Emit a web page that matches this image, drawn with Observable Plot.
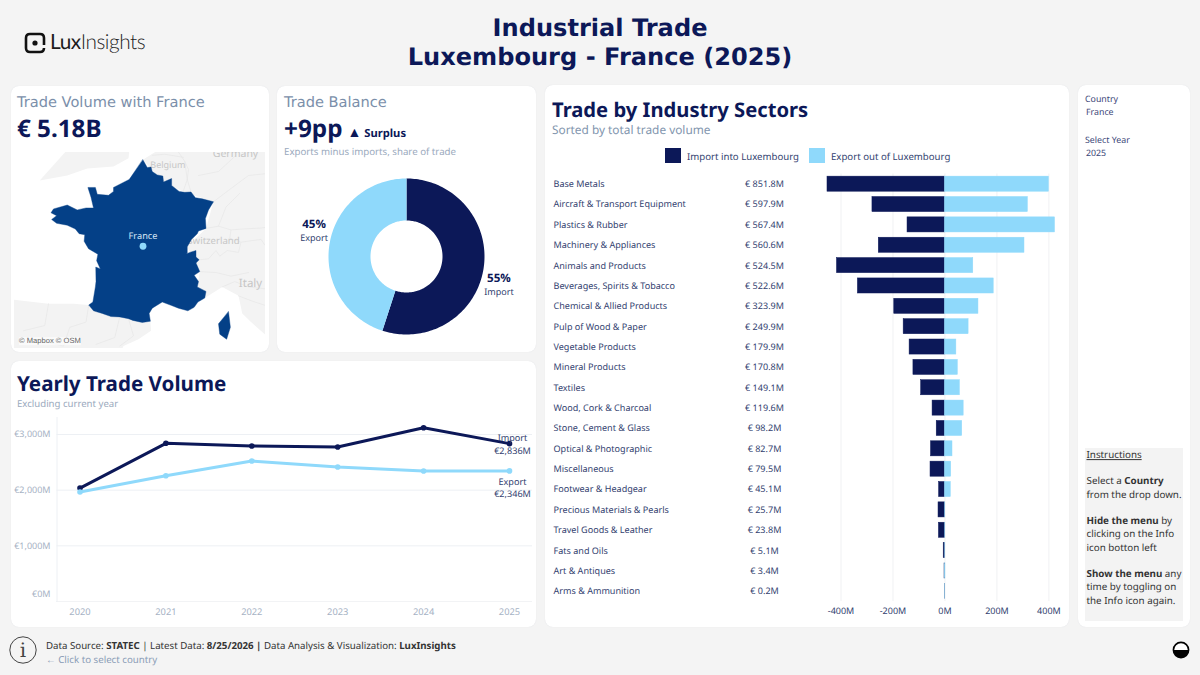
<!DOCTYPE html>
<html><head><meta charset="utf-8">
<script src="https://cdn.jsdelivr.net/npm/d3@7"></script>
<script src="https://cdn.jsdelivr.net/npm/@observablehq/plot@0.6"></script>
<style>
html,body{margin:0;padding:0;background:#f4f4f4;width:1200px;height:675px;overflow:hidden;font-family:"Noto Sans",sans-serif;text-rendering:geometricPrecision;}
.card{position:absolute;background:#fff;border-radius:8px;box-shadow:0 0 1px #d9dbe0;}
.t{position:absolute;white-space:nowrap;transform:translateY(-50%);line-height:1;}
.p{position:absolute;overflow:hidden;}
.p svg{display:block;background:transparent;text-rendering:geometricPrecision;}
</style></head><body>
<script>
// ---------- data ----------
const navy="#0c1858", sky="#8fd9fb", mapBlue="#044087";
const sectors=["Base Metals","Aircraft & Transport Equipment","Plastics & Rubber","Machinery & Appliances","Animals and Products","Beverages, Spirits & Tobacco","Chemical & Allied Products","Pulp of Wood & Paper","Vegetable Products","Mineral Products","Textiles","Wood, Cork & Charcoal","Stone, Cement & Glass","Optical & Photographic","Miscellaneous","Footwear & Headgear","Precious Materials & Pearls","Travel Goods & Leather","Fats and Oils","Art & Antiques","Arms & Ammunition"];
const totals=["€ 851.8M","€ 597.9M","€ 567.4M","€ 560.6M","€ 524.5M","€ 522.6M","€ 323.9M","€ 249.9M","€ 179.9M","€ 170.8M","€ 149.1M","€ 119.6M","€ 98.2M","€ 82.7M","€ 79.5M","€ 45.1M","€ 25.7M","€ 23.8M","€ 5.1M","€ 3.4M","€ 0.2M"];
const sectorImports=[452,279,144,254.6,415.5,335,195,158.9,136,121.3,91.6,47.6,31.7,53.7,55.5,22.6,24.7,23.2,4.8,1.6,0.03];
const sectorExports=[400,319,423.4,306,109,187.6,128.9,91,43.9,49.5,57.5,72,66.5,29,24,22.5,1,0.6,0.3,1.8,0.17];
const years=[2020,2021,2022,2023,2024,2025];
const yearlyImport=[2038,2842,2793,2775,3122,2836];
const yearlyExport=[1966,2260,2523,2415,2344,2346];
const shareImport=55, shareExport=45;
const franceMain=[[2.55,51.08],[2.9,50.7],[3.2,50.72],[3.3,50.5],[3.7,50.33],[4.15,50.27],[4.2,49.97],[4.85,50.15],[4.85,49.8],[5.45,49.5],[5.9,49.45],[6.4,49.47],[6.75,49.18],[7.3,49.12],[8.2,48.97],[7.8,48.55],[7.55,48.1],[7.6,47.58],[7.0,47.45],[6.9,47.3],[6.45,47.0],[6.1,46.6],[6.1,46.25],[5.97,46.2],[6.3,46.3],[6.8,46.4],[6.8,46.05],[7.05,45.9],[6.8,45.72],[7.1,45.25],[6.65,45.05],[7.0,44.7],[6.9,44.4],[7.6,44.15],[7.5,43.78],[6.95,43.55],[6.65,43.25],[6.15,43.05],[5.4,43.2],[4.85,43.35],[4.1,43.55],[3.3,43.2],[3.05,42.9],[3.15,42.45],[2.5,42.38],[1.75,42.5],[1.4,42.6],[0.7,42.7],[0,42.72],[-0.7,42.9],[-1.4,43.05],[-1.78,43.38],[-1.45,43.55],[-1.25,44.4],[-1.2,44.7],[-1.22,45.5],[-0.85,45.4],[-1.15,45.85],[-1.05,46.2],[-1.8,46.5],[-2.15,46.9],[-2.1,47.25],[-2.55,47.3],[-2.85,47.55],[-3.5,47.75],[-4.35,47.85],[-4.75,48.05],[-4.35,48.25],[-4.8,48.4],[-4.6,48.6],[-3.5,48.8],[-2.7,48.55],[-2.0,48.65],[-1.4,48.65],[-1.6,49.2],[-1.85,49.7],[-1.25,49.7],[-1.1,49.35],[-0.2,49.3],[0.2,49.5],[0.2,49.7],[1.45,50.1],[1.6,50.85]];
const corsica=[[9.4,43.0],[9.55,42.1],[9.25,41.4],[8.7,41.7],[8.6,42.3],[9.05,42.7],[9.3,42.95]];
const landEast=[[2.55,51.08],[3.5,51.45],[4.8,52],[14,52],[14,40.5],[13,41.2],[12.3,41.7],[11.2,42.4],[10.5,42.9],[10.2,43.9],[8.9,44.4],[7.5,43.78],[7.6,44.15],[6.9,44.4],[7.1,45.25],[6.1,46.6],[7.6,47.58],[8.2,48.97],[5.9,49.45],[4.2,49.97],[2.9,50.7]];
const landSpain=[[3.15,42.45],[3.2,41.9],[2.2,41.4],[1,41],[0.7,40.5],[-8,40.5],[-8,43.7],[-5,43.45],[-3,43.45],[-1.78,43.38],[-0.7,42.9],[1.4,42.6]];
const landUK=[[-5.7,50.05],[-3.5,50.3],[-1.9,50.65],[0.2,50.75],[1.4,51.15],[1.5,51.7],[-3.3,51.7],[-4.4,50.9]];
const borderLines=[
 [[4.8,52],[5.9,51],[6.1,50.1],[6.4,49.47]],[[3.3,51.3],[4.3,51.35],[5.8,51.2]],[[6.1,50.1],[5.8,49.55]],[[5.9,51],[6.2,50.6],[6.1,50.1]],
 [[7.6,47.58],[8.6,47.7],[9.6,47.5],[9.5,47.05],[10.4,46.85],[10.2,46.3],[9.3,46.4],[8.7,46.1],[8.4,46.4],[7.8,45.95],[7.05,45.9]],
 [[9.6,47.5],[10.5,47.55],[12,47.6],[13,47.7]],[[10.4,46.85],[12,47],[12.3,46.7],[14,46.5]],[[8.2,48.97],[9.5,49.6],[11,50.3],[12.5,50.4]],[[7,50.3],[8.6,50.5],[10,51.3]],[[8.6,47.7],[9.2,48.7],[10.3,49.4]],
 [[7.1,45.25],[8.4,45.2],[9.6,45],[11,45.2]],[[8.9,44.4],[9.9,44.7],[11,44.4],[12.3,44.3]],[[10.2,43.9],[11.3,43.6],[12.6,43.3]],
 [[-1.78,43.38],[-2,42.4],[-3.3,42.1],[-3.8,41],[-6,41.4]],[[0.7,42.7],[0.3,41.5],[-1.2,41.1]],[[1.4,42.6],[1.8,41.6],[0.7,41]],[[-5,43.45],[-5.3,42.2],[-7,41.9]]];
const mapPlaces=[["Germany",9.96,51.4,10.5],["Belgium",4.55,50.8,9],["Switzerland",8.2,46.9,9.6],["Italy",11.16,44.6,11.5]];
const yTicksUpper=[1000,2000,3000];
const xBarTicks=[-400,-200,0,200,400];

// ---------- helpers ----------
function card(x,y,w,h){const d=document.createElement("div");d.className="card";d.style.cssText=`left:${x}px;top:${y}px;width:${w}px;height:${h}px`;document.body.append(d);}
function label(x,y,html,css){const d=document.createElement("div");d.className="t";d.style.cssText=`left:${x}px;top:${y}px;${css}`;d.innerHTML=html;document.body.append(d);return d;}
function place(x,y,w,h,node){const d=document.createElement("div");d.className="p";d.style.cssText=`left:${x}px;top:${y}px;width:${w}px;height:${h}px`;d.append(node);document.body.append(d);}
const dejavu='font-family:"DejaVu Sans";';

// ---------- header ----------
label(600,28,"Industrial Trade",dejavu+`font-weight:700;font-size:24.1px;color:${navy};transform:translate(-50%,-50%)`);
label(600,57,"Luxembourg - France (2025)",dejavu+`font-weight:700;font-size:24.1px;color:${navy};transform:translate(-50%,-50%)`);
const logo=document.createElementNS("http://www.w3.org/2000/svg","svg");
logo.setAttribute("width",22);logo.setAttribute("height",22);logo.setAttribute("style","position:absolute;left:24px;top:32px");
logo.innerHTML='<path d="M6 2 H16 Q20 2 20 6 V13 M20 16 Q20 20 16 20 H6 Q2 20 2 16 V6 Q2 2 6 2" fill="none" stroke="#111" stroke-width="2.6"/><circle cx="11" cy="11" r="2.6" fill="#111"/>';
document.body.append(logo);
label(50,42,'<span style="font-weight:400">Lux</span><span style="font-weight:300">Insights</span>','font-family:Lato;font-size:20.8px;letter-spacing:-.45px;color:#1c1c1c');

// ---------- cards ----------
card(11,86,258,266);card(277,86,259,266);card(11,361,525,266);card(545,85,524,542);card(1078,85,112,542);

// ---------- card 1: map ----------
label(17,102.5,"Trade Volume with France",dejavu+"font-size:14.6px;color:#7b8faa");
label(17,129,"€ 5.18B",`font-weight:700;font-size:24.2px;color:${navy}`);
const merc=lat=>Math.log(Math.tan(Math.PI/4+lat*Math.PI/360));
const mapProjection=d3.geoTransform({point(lon,lat){this.stream.point(34+(lon+5)*12.5,9+(1.038-merc(lat))*732);}});
const poly=r=>({type:"Polygon",coordinates:[r]});
place(14,152,251,196,Plot.plot({width:251,height:196,margin:0,projection:mapProjection,style:{background:"transparent",fontFamily:"Noto Sans"},
 marks:[
  Plot.geo([landEast,landSpain,landUK].map(poly),{fill:"#f3f3f3"}),
  Plot.geo({type:"MultiLineString",coordinates:borderLines},{stroke:"#e6e6e6",strokeWidth:.7}),
  Plot.text(mapPlaces,{x:d=>d[1],y:d=>d[2],text:d=>d[0],fontSize:d=>d[3],fill:"#c6c6c6"}),
  Plot.geo({type:"MultiPolygon",coordinates:[[franceMain],[corsica]]},{fill:mapBlue,stroke:mapBlue,strokeWidth:.4}),
  Plot.text([{n:"France",lon:2.56,lat:47.2}],{x:"lon",y:"lat",text:"n",fill:"#d4e6f5",fontSize:9.2}),
  Plot.dot([{lon:2.56,lat:46.63}],{x:"lon",y:"lat",r:3.4,fill:"#8fd9fb"})
 ]}));
label(19,341,"© Mapbox © OSM",'font-family:"Liberation Sans";font-size:7.6px;color:#666;background:rgba(255,255,255,.6)');

// ---------- card 2: donut ----------
label(284,102.5,"Trade Balance",dejavu+"font-size:14.6px;color:#7b8faa");
label(284,129,"+9pp",`font-weight:700;font-size:24.3px;color:${navy}`);
label(347.5,133,'<span style="font-size:14px">▲</span> Surplus',`font-weight:700;font-size:11.2px;color:${navy}`);
label(284,152,"Exports minus imports, share of trade","font-size:9.7px;color:#9aa9bd");
const donutRows=[{name:"Import",share:shareImport,color:navy,dy:[7.4,21.4]},{name:"Export",share:shareExport,color:sky,dy:[-17.4,-3.4]}];
{let a=0;for(const r of donutRows){r.a0=a;a+=r.share/100*2*Math.PI;r.a1=a;r.mid=(r.a0+r.a1)/2;}}
const hole=36/78;
function wedge(a0,a1){const n=Math.ceil((a1-a0)*40);const s=d3.range(n+1).map(i=>a0+(a1-a0)*i/n);
 const pt=(r,a)=>[r*Math.sin(a),r*Math.cos(a)];
 return {type:"Polygon",coordinates:[[...s.map(a=>pt(1,a)),...s.slice().reverse().map(a=>pt(hole,a)),pt(1,a0)]]};}
const donutProjection=d3.geoTransform({point(u,v){this.stream.point(129+u*78,96-v*78);}});
place(277,160,259,190,Plot.plot({width:259,height:190,margin:0,projection:donutProjection,style:{background:"transparent",fontFamily:"Noto Sans"},
 marks:[
  Plot.geo(donutRows.map(r=>wedge(r.a0,r.a1)),{fill:(d,i)=>donutRows[i].color}),
  ...donutRows.flatMap(r=>[
   Plot.text([r],{x:d=>1.2*Math.sin(d.mid),y:d=>1.2*Math.cos(d.mid),dy:r.dy[0],text:d=>d.share+"%",fontWeight:700,fontSize:11.6,fill:navy}),
   Plot.text([r],{x:d=>1.2*Math.sin(d.mid),y:d=>1.2*Math.cos(d.mid),dy:r.dy[1],text:"name",fontSize:9,fill:"#333f70"})
  ])
 ]}));

// ---------- card 3: yearly line ----------
label(17,384,"Yearly Trade Volume",`font-weight:700;font-size:20.6px;color:${navy}`);
label(17,404,"Excluding current year","font-size:9.6px;color:#9aa9bd");
const yearly=years.flatMap((y,i)=>[{year:y,flow:"Import",v:yearlyImport[i]},{year:y,flow:"Export",v:yearlyExport[i]}]);
const lastOf=f=>yearly.filter(d=>d.flow===f&&d.year===2025);
const euro=d=>"€"+d3.format(",")(d)+"M";
place(11,410,525,215,Plot.plot({width:525,height:215,marginLeft:45.5,marginRight:4,marginTop:7,marginBottom:24,
 style:{background:"transparent",fontFamily:"Noto Sans",fontSize:"9px"},
 x:{type:"point",domain:years,range:[68.5,498],padding:0,round:false},
 y:{domain:[0,3000],range:[191,24]},
 color:{domain:["Import","Export"],range:[navy,sky]},
 marks:[
  Plot.ruleY(yTicksUpper,{stroke:"#edf0f4"}),
  Plot.ruleY([0],{stroke:"#e4e6ea",strokeDasharray:"1,1"}),
  Plot.frame({anchor:"left",stroke:"#edf0f4"}),
  Plot.axisY(yTicksUpper,{tickSize:0,tickPadding:6.5,tickFormat:euro,label:null,fill:"#a6b2c4",fontSize:9}),
  Plot.axisY([0],{tickSize:0,tickPadding:6.5,tickFormat:euro,label:null,fill:"#a6b2c4",fontSize:9,dy:-7}),
  Plot.axisX(years,{tickSize:0,tickPadding:7,tickFormat:d=>String(d),label:null,fill:"#a6b2c4",fontSize:9.3}),
  Plot.line(yearly,{x:"year",y:"v",stroke:"flow",strokeWidth:3}),
  Plot.dot(yearly,{x:"year",y:"v",fill:"flow",r:2.8}),
  Plot.text(lastOf("Import"),{x:"year",y:"v",text:"flow",dx:3,dy:-6,fill:"#333f70",fontSize:9.1}),
  Plot.text(lastOf("Import"),{x:"year",y:"v",text:d=>euro(d.v),dx:3,dy:7,fill:"#333f70",fontSize:9.1}),
  Plot.text(lastOf("Export"),{x:"year",y:"v",text:"flow",dx:3,dy:11,fill:"#333f70",fontSize:9.1}),
  Plot.text(lastOf("Export"),{x:"year",y:"v",text:d=>euro(d.v),dx:3,dy:23,fill:"#333f70",fontSize:9.1})
 ]}));

// ---------- card 4: sectors ----------
label(552,108.5,"Trade by Industry Sectors",`font-weight:700;font-size:20.2px;color:${navy}`);
label(552,131,"Sorted by total trade volume","font-size:11.85px;color:#8296ae");
const sw=(x,c)=>{const d=document.createElement("div");d.style.cssText=`position:absolute;left:${x}px;top:148px;width:16px;height:15px;background:${c}`;document.body.append(d);};
sw(665,navy);sw(809,sky);
label(687,157,"Import into Luxembourg","font-size:9.65px;color:#333f70");
label(831,157,"Export out of Luxembourg","font-size:9.65px;color:#333f70");
const rows=sectors.map((s,i)=>({s,total:totals[i],imp:-sectorImports[i],exp:sectorExports[i]}));
place(545,170,524,457,Plot.plot({width:524,height:457,marginLeft:8,marginRight:0,marginTop:3.5,marginBottom:26,
 style:{background:"transparent",fontFamily:"Noto Sans",fontSize:"9px"},
 x:{domain:[-400,400],range:[295.5,503.4]},
 y:{type:"band",domain:sectors,range:[3.5,431],paddingInner:.26,paddingOuter:.13,round:false,axis:null},
 marks:[
  Plot.ruleX(xBarTicks,{stroke:"#f0f1f3"}),
  Plot.barX(rows,{x1:"imp",x2:0,y:"s",fill:navy,stroke:navy,strokeWidth:.5}),
  Plot.barX(rows,{x1:0,x2:"exp",y:"s",fill:sky,stroke:sky,strokeWidth:.5}),
  Plot.text(rows,{y:"s",text:"s",frameAnchor:"left",fill:"#333f70",fontSize:9.05}),
  Plot.text(rows,{y:"s",text:"total",frameAnchor:"left",dx:211,textAnchor:"middle",fill:"#333f70",fontSize:9.05}),
  Plot.axisX(xBarTicks,{tickSize:0,tickPadding:6,tickFormat:d=>d+"M",label:null,fill:"#333f70",fontSize:9})
 ]}));

// ---------- filter panel ----------
const panel="font-size:8.8px;color:#3b4678;";
label(1085,99,"Country",panel);label(1086,112,"France",panel);
label(1085,140,"Select Year",panel);label(1086,153,"2025",panel);
const box=document.createElement("div");box.style.cssText="position:absolute;left:1085px;top:448px;width:98px;height:173px;background:#f3f3f3";document.body.append(box);
const ins="font-size:9.8px;color:#333;";
[[455,'<u>Instructions</u>'],[481,'Select a <b>Country</b>'],[494.5,'from the drop down.'],[521,'<b>Hide the menu</b> by'],[534,'clicking on the Info'],[548,'icon botton left'],[574,'<b>Show the menu</b> any'],[587,'time by toggling on'],[601,'the Info icon again.']].forEach(([y,h])=>label(1086.5,y,h,ins));

// ---------- footer ----------
const icons=document.createElementNS("http://www.w3.org/2000/svg","svg");
icons.setAttribute("width",1200);icons.setAttribute("height",675);icons.setAttribute("style","position:absolute;left:0;top:0;pointer-events:none");
icons.innerHTML='<circle cx="23" cy="650" r="13.2" fill="none" stroke="#444" stroke-width="1"/><circle cx="1181" cy="650" r="7.6" fill="#fff" stroke="#000" stroke-width="1.6"/><path d="M1173.4 650 A7.6 7.6 0 0 0 1188.6 650 Z" fill="#000"/>';
document.body.append(icons);
label(23,650,"i",'font-family:"DejaVu Serif";font-size:20px;font-weight:300;color:#444;transform:translate(-50%,-50%)');
label(46,646,'Data Source: <b>STATEC</b> | Latest Data: <b>8/25/2026 |</b> Data Analysis &amp; Visualization: <b>LuxInsights</b>',"font-size:9.7px;color:#333");
label(46,659.5,"← Click to select country","font-size:9.7px;color:#8a9cb6");
</script>
</body></html>
